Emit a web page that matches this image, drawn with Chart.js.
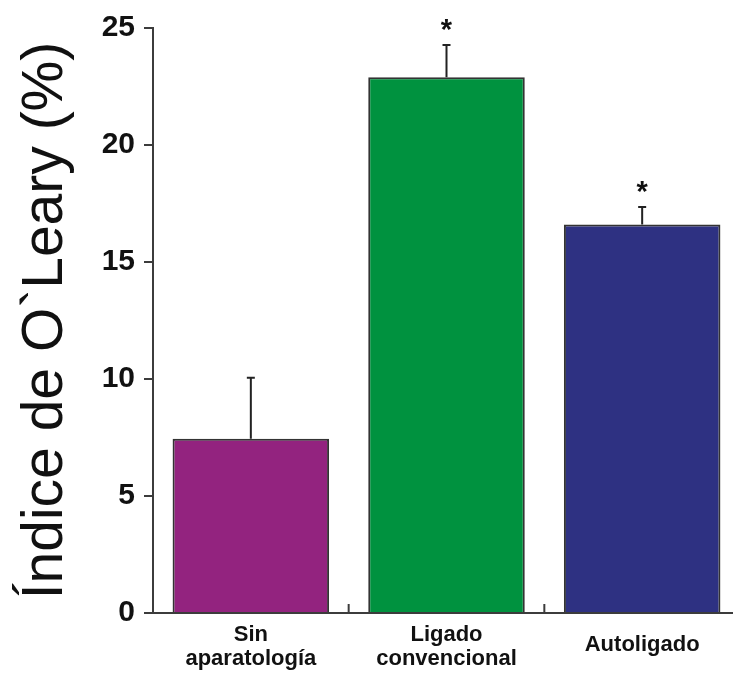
<!DOCTYPE html>
<html>
<head>
<meta charset="utf-8">
<script src="https://cdn.jsdelivr.net/npm/chart.js@4/dist/chart.umd.min.js"></script>
<style>
  html, body { margin: 0; padding: 0; background: #fff; overflow: hidden; }
  #wrap { width: 745px; height: 673px; position: relative; }
</style>
</head>
<body>
<div id="wrap"><canvas id="chart"></canvas></div>
<script>
"use strict";

/* ── Datos ───────────────────────────────────────────── */
const categories = [["Sin", "aparatología"], ["Ligado", "convencional"], ["Autoligado"]];
const means      = [7.45, 22.9, 16.6];
const errors     = [2.6, 1.37, 0.75];
const marks      = ["", "*", "*"];
const barColors  = ["#93237f", "#00923f", "#2e3182"];
const yTicks     = [0, 5, 10, 15, 20, 25];

const AXIS_COLOR = "#3c3c3c";
const TEXT_COLOR = "#111";

/* ── Plugin: barras de error + asteriscos + marcas del eje x ── */
const extrasPlugin = {
  id: "extras",
  afterDatasetsDraw(chart) {
    const { ctx, scales, chartArea } = chart;
    const x = scales.x, y = scales.y;
    ctx.save();
    ctx.strokeStyle = "#222";
    ctx.lineWidth = 2;
    means.forEach((m, i) => {
      const px = x.getPixelForValue(i);
      const y0 = y.getPixelForValue(m);
      const y1 = y.getPixelForValue(m + errors[i]);
      ctx.beginPath();
      ctx.moveTo(px, y0);
      ctx.lineTo(px, y1);
      ctx.moveTo(px - 4, y1);
      ctx.lineTo(px + 4, y1);
      ctx.stroke();
      if (marks[i]) {
        ctx.fillStyle = TEXT_COLOR;
        ctx.font = "bold 29px 'Liberation Sans', Arial, sans-serif";
        ctx.textAlign = "center";
        ctx.textBaseline = "alphabetic";
        ctx.fillText(marks[i], px, y1 - 6);
      }
    });

    /* marcas pequeñas entre categorías, hacia arriba */
    ctx.strokeStyle = AXIS_COLOR;
    for (let i = 0; i < means.length; i++) {
      const bx = (x.getPixelForValue(i) + x.getPixelForValue(i + 1)) / 2;
      ctx.beginPath();
      ctx.moveTo(bx, chartArea.bottom);
      ctx.lineTo(bx, chartArea.bottom - 9);
      ctx.stroke();
    }
    ctx.restore();
  }
};

new Chart(document.getElementById("chart"), {
  type: "bar",
  plugins: [extrasPlugin],
  data: {
    labels: categories,
    datasets: [{
      data: means,
      backgroundColor: barColors,
      borderColor: "#333",
      borderWidth: 2,
      categoryPercentage: 1,
      barPercentage: 0.8,
    }]
  },
  options: {
    responsive: true,
    maintainAspectRatio: false,
    animation: false,
    layout: { padding: { left: 12, top: 28, right: 5, bottom: 0 } },
    plugins: {
      legend: { display: false },
      tooltip: { enabled: false },
    },
    scales: {
      x: {
        grid: { display: false },
        border: { display: true, color: AXIS_COLOR, width: 2 },
        ticks: {
          color: TEXT_COLOR,
          padding: 2,
          maxRotation: 0,
          autoSkip: false,
          font: ctx => ({
            family: "'Liberation Sans', Arial, sans-serif",
            weight: "bold",
            size: 22,
            lineHeight: ctx.index === 2 ? "44px" : "24px",
          }),
        },
        afterFit: s => { s.height = 60; },
      },
      y: {
        min: 0,
        max: 25,
        afterBuildTicks: s => { s.ticks = yTicks.map(v => ({ value: v })); },
        grid: { drawOnChartArea: false, drawTicks: true, tickLength: 9, color: AXIS_COLOR, lineWidth: 2 },
        border: { display: true, color: AXIS_COLOR, width: 2 },
        ticks: {
          color: TEXT_COLOR,
          padding: 9,
          font: { family: "'Liberation Sans', Arial, sans-serif", weight: "bold", size: 30 },
        },
        title: {
          display: true,
          text: "Índice de O`Leary (%)",
          color: TEXT_COLOR,
          padding: 0,
          font: { family: "'Liberation Sans', Arial, sans-serif", size: 57, lineHeight: 1.2 },
        },
        afterFit: s => { s.width = 141; },
      }
    }
  }
});
</script>
</body>
</html>
